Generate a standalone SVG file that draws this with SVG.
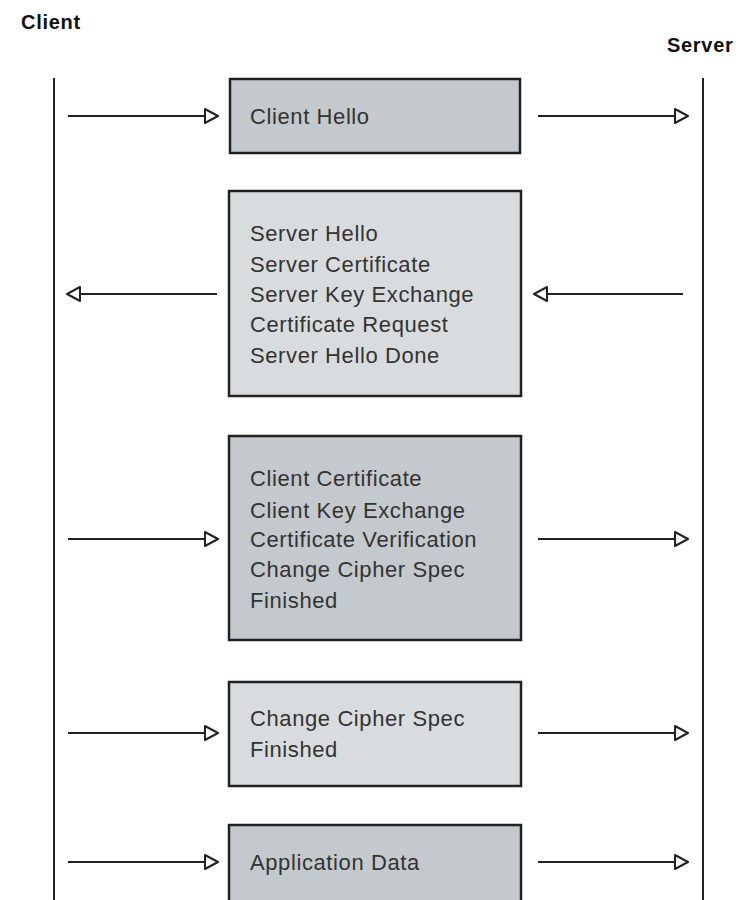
<svg xmlns="http://www.w3.org/2000/svg" width="740" height="900" viewBox="0 0 740 900">
<style>
.lane{stroke:#222;stroke-width:2;fill:none}
.box{stroke:#222;stroke-width:2.5}
.dark{fill:#c3c9cc}
.light{fill:#d9dcde}
.t{font-family:"Liberation Sans",Arial,sans-serif;font-size:22px;letter-spacing:0.6px;fill:#333}
.h{font-family:"Liberation Sans",Arial,sans-serif;font-size:20px;letter-spacing:0.7px;font-weight:bold;fill:#111}
.c{stroke:#222;stroke-width:2;fill:none}
</style>
<defs>
<marker id="ah" markerUnits="userSpaceOnUse" markerWidth="18" markerHeight="18" viewBox="0 0 18 18" refX="15" refY="9" orient="auto">
<path d="M2,2 L15,9 L2,16 Z" fill="#fff" stroke="#222" stroke-width="2" stroke-linejoin="round"/>
</marker>
</defs>
<rect width="740" height="900" fill="#fff"/>
<g id="client">
<text class="h" x="21" y="29">Client</text>
<line class="lane" x1="54" y1="78" x2="54" y2="900"/>
</g>
<g id="server">
<text class="h" x="667" y="52">Server</text>
<line class="lane" x1="703" y1="78" x2="703" y2="900"/>
</g>
<g id="n1">
<rect class="box dark" x="230" y="79" width="290" height="74"/>
<text class="t" x="250" y="124">Client Hello</text>
</g>
<g id="n2">
<rect class="box light" x="229" y="191" width="292" height="205"/>
<text class="t" x="250" y="241">Server Hello</text>
<text class="t" x="250" y="272">Server Certificate</text>
<text class="t" x="250" y="302">Server Key Exchange</text>
<text class="t" x="250" y="332">Certificate Request</text>
<text class="t" x="250" y="363">Server Hello Done</text>
</g>
<g id="n3">
<rect class="box dark" x="229" y="436" width="292" height="204"/>
<text class="t" x="250" y="486">Client Certificate</text>
<text class="t" x="250" y="518">Client Key Exchange</text>
<text class="t" x="250" y="547">Certificate Verification</text>
<text class="t" x="250" y="577">Change Cipher Spec</text>
<text class="t" x="250" y="608">Finished</text>
</g>
<g id="n4">
<rect class="box light" x="229" y="682" width="292" height="104"/>
<text class="t" x="250" y="726">Change Cipher Spec</text>
<text class="t" x="250" y="757">Finished</text>
</g>
<g id="n5">
<rect class="box dark" x="229" y="825" width="292" height="90"/>
<text class="t" x="250" y="870">Application Data</text>
</g>
<g id="connectors">
<line class="c" x1="68" y1="116" x2="218" y2="116" marker-end="url(#ah)"/>
<line class="c" x1="538" y1="116" x2="688" y2="116" marker-end="url(#ah)"/>
<line class="c" x1="217" y1="294" x2="67" y2="294" marker-end="url(#ah)"/>
<line class="c" x1="683" y1="294" x2="534" y2="294" marker-end="url(#ah)"/>
<line class="c" x1="68" y1="539" x2="218" y2="539" marker-end="url(#ah)"/>
<line class="c" x1="538" y1="539" x2="688" y2="539" marker-end="url(#ah)"/>
<line class="c" x1="68" y1="733" x2="218" y2="733" marker-end="url(#ah)"/>
<line class="c" x1="538" y1="733" x2="688" y2="733" marker-end="url(#ah)"/>
<line class="c" x1="68" y1="862" x2="218" y2="862" marker-end="url(#ah)"/>
<line class="c" x1="538" y1="862" x2="688" y2="862" marker-end="url(#ah)"/>
</g>
</svg>
